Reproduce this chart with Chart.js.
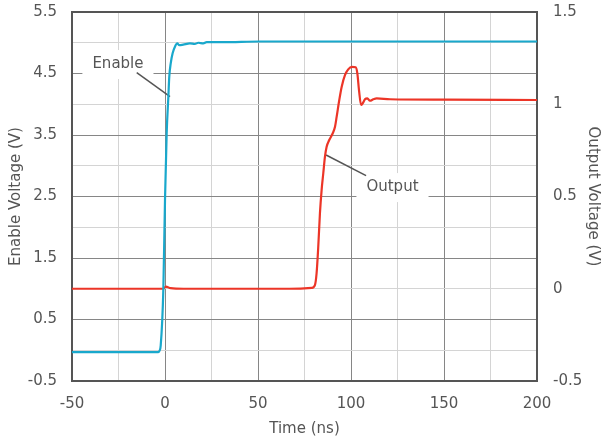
<!DOCTYPE html>
<html>
<head>
<meta charset="utf-8">
<script src="https://cdn.jsdelivr.net/npm/chart.js@4"></script>
<style>
  body { margin: 0; background: #fff; }
  canvas { display: block; }
</style>
</head>
<body>
<canvas id="chart" width="604" height="441"></canvas>
<script>
/* -------------------- DATA -------------------- */
const enableTime = [-50, -3.6, -3.0, -2.3, -0.9, 0, 0.9, 1.8, 2.3, 3.1, 4.1, 5.4, 6.6, 7.7, 9.8, 13.4, 16, 17.9, 20.6, 22.4, 31.3, 50.7, 100, 150, 200];
const enableVolts = [-0.03, -0.03, -0.01, 0.08, 0.98, 2.44, 3.53, 4.12, 4.45, 4.67, 4.83, 4.94, 4.99, 4.96, 4.97, 4.99, 4.98, 5.0, 4.99, 5.01, 5.01, 5.02, 5.02, 5.02, 5.02];

const outputTime = [-50, -1, 0.5, 3, 10, 67, 78.9, 80.6, 81.5, 82.4, 83.3, 84.2, 85.1, 86.0, 86.9, 88.3, 90.2, 91.4, 92.3, 93.7, 95.0, 96.8, 98.5, 100.4, 102.5, 103.4, 104.3, 105.4, 106.3, 107.5, 108.8, 110.2, 112.0, 113.8, 121, 150, 200];
const outputVolts = [0, 0, 0.012, 0.003, 0, 0, 0.005, 0.02, 0.084, 0.228, 0.409, 0.535, 0.626, 0.716, 0.770, 0.806, 0.843, 0.878, 0.933, 1.023, 1.095, 1.159, 1.189, 1.203, 1.200, 1.168, 1.077, 0.996, 1.005, 1.027, 1.032, 1.019, 1.027, 1.032, 1.027, 1.025, 1.023];

const xLabels = [-50, 0, 50, 100, 150, 200];
const leftLabels = [-0.5, 0.5, 1.5, 2.5, 3.5, 4.5, 5.5];
const rightLabels = [-0.5, 0, 0.5, 1, 1.5];

/* callouts in data units: text spot and leader line */
const callouts = [
    { text: "Enable", axis: "y", at: [-25.3, 4.654], from: [-15.2, 4.513], to: [2.7, 4.123] },
    { text: "Output", axis: "y2", at: [122.3, 0.551], from: [86.6, 0.725], to: [108.1, 0.613] }
];

/* -------------------- STYLE -------------------- */
const TEXT = "#555555";
const GRID_DARK = "#868686";
const GRID_LIGHT = "#d4d4d4";
const FONT = { family: "'DejaVu Sans', Verdana, sans-serif", size: 15 };

const near = (a, list) => list.some(v => Math.abs(v - a) < 1e-6);

const frame = {
    id: "frame",
    beforeDatasetsDraw(chart) {
        const { ctx, chartArea: a, scales } = chart;
        ctx.save();
        // callout boxes + leaders
        ctx.font = `${FONT.size}px ${FONT.family}`;
        callouts.forEach(c => {
            const ys = scales[c.axis];
            const cx = scales.x.getPixelForValue(c.at[0]);
            const cy = ys.getPixelForValue(c.at[1]);
            const w = ctx.measureText(c.text).width + 20;
            ctx.fillStyle = "#fff";
            ctx.fillRect(cx - w / 2, cy - 14, w, 29);
            ctx.strokeStyle = TEXT;
            ctx.lineWidth = 1.5;
            ctx.beginPath();
            ctx.moveTo(scales.x.getPixelForValue(c.from[0]), ys.getPixelForValue(c.from[1]));
            ctx.lineTo(scales.x.getPixelForValue(c.to[0]), ys.getPixelForValue(c.to[1]));
            ctx.stroke();
            ctx.fillStyle = TEXT;
            ctx.textAlign = "center";
            ctx.textBaseline = "middle";
            ctx.fillText(c.text, cx, cy);
        });
        // plot frame
        ctx.strokeStyle = TEXT;
        ctx.lineWidth = 2;
        ctx.strokeRect(a.left, a.top, a.right - a.left, a.bottom - a.top);
        ctx.restore();
    }
};

const toPoints = (xs, ys) => xs.map((x, i) => ({ x: x, y: ys[i] }));

new Chart(document.getElementById("chart"), {
    type: "line",
    data: {
        datasets: [
            {
                label: "Enable",
                data: toPoints(enableTime, enableVolts),
                yAxisID: "y",
                borderColor: "#19a8cc",
                borderWidth: 2.2,
                pointRadius: 0,
                cubicInterpolationMode: "monotone"
            },
            {
                label: "Output",
                data: toPoints(outputTime, outputVolts),
                yAxisID: "y2",
                borderColor: "#ec3527",
                borderWidth: 2.2,
                pointRadius: 0,
                cubicInterpolationMode: "monotone"
            }
        ]
    },
    options: {
        responsive: false,
        animation: false,
        devicePixelRatio: 1,
        layout: { padding: 0 },
        plugins: { legend: { display: false }, tooltip: { enabled: false } },
        scales: {
            x: {
                type: "linear",
                min: -50, max: 200,
                afterFit: s => { s.height = 60; s.paddingLeft = 0; s.paddingRight = 0; },
                border: { display: false },
                grid: {
                    drawTicks: false,
                    color: c => near(c.tick.value, xLabels) ? GRID_DARK : GRID_LIGHT
                },
                ticks: {
                    stepSize: 25, autoSkip: false, maxRotation: 0,
                    padding: 14, color: TEXT, font: FONT,
                    callback: v => near(v, xLabels) ? String(v) : ""
                },
                title: { display: true, text: "Time (ns)", color: TEXT, font: FONT, padding: { top: 0, bottom: 3 } }
            },
            y: {
                position: "left",
                min: -0.5, max: 5.5,
                afterFit: s => { s.width = 72; s.paddingTop = 12; s.paddingBottom = 0; },
                border: { display: false },
                grid: {
                    drawTicks: false,
                    color: c => near(c.tick.value, leftLabels) ? GRID_DARK : GRID_LIGHT
                },
                ticks: {
                    stepSize: 0.5, autoSkip: false,
                    padding: 15, color: TEXT, font: FONT,
                    callback: v => near(v, leftLabels) ? String(v) : ""
                },
                title: { display: true, text: "Enable Voltage (V)", color: TEXT, font: FONT, padding: { top: 7, bottom: 0 } }
            },
            y2: {
                position: "right",
                min: -0.5, max: 1.5,
                afterFit: s => { s.width = 67; s.paddingTop = 12; s.paddingBottom = 0; },
                border: { display: false },
                grid: { drawOnChartArea: false, drawTicks: false },
                ticks: {
                    stepSize: 0.5, autoSkip: false,
                    padding: 16, color: TEXT, font: FONT,
                    callback: v => near(v, rightLabels) ? String(v) : ""
                },
                title: { display: true, text: "Output Voltage (V)", color: TEXT, font: FONT, padding: { top: 2, bottom: 0 } }
            }
        }
    },
    plugins: [frame]
});
</script>
</body>
</html>
